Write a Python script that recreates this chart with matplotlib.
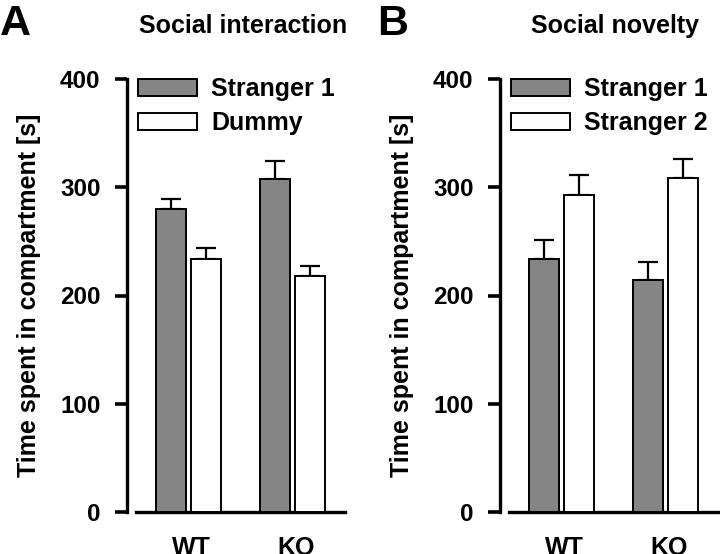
import matplotlib
matplotlib.use("Agg")
import matplotlib.pyplot as plt
import numpy as np

plt.rcParams['font.family'] = ['Liberation Sans', 'DejaVu Sans']
plt.rcParams['font.weight'] = 'bold'

groups = ["WT", "KO"]

# panel A: social interaction
inter_labels = ["Stranger 1", "Dummy"]
inter_mean = [[280, 308], [234, 218]]
inter_err = [[9, 16], [10, 9]]

# panel B: social novelty
novel_labels = ["Stranger 1", "Stranger 2"]
novel_mean = [[234, 214], [293, 309]]
novel_err = [[17, 17], [18, 17]]

colors = ["#858585", "white"]

fig = plt.figure(figsize=(7.2, 5.54), dpi=100)
W, H = 720, 554


def panel(left_px, means, errs, labels, title, title_x, letter, letter_x):
    ax = fig.add_axes([left_px / W, 42 / H, 209 / W, 433 / H])
    x = np.arange(len(groups))
    width = 0.288
    offs = [-0.168, 0.168]
    for i in range(2):
        ax.bar(x + offs[i], means[i], width, color=colors[i], edgecolor="black",
               linewidth=1.4, label=labels[i], zorder=3)
        ax.errorbar(x + offs[i], means[i], yerr=[np.zeros(2), errs[i]], fmt="none",
                    ecolor="black", elinewidth=1.6, capsize=7, capthick=1.6, zorder=2)
    ax.set_xlim(-0.5, 1.5)
    ax.set_ylim(0, 400)
    ax.set_yticks([0, 100, 200, 300, 400])
    ax.set_xticks(x + 0.03)
    ax.set_xticklabels(groups)
    for s in ["top", "right"]:
        ax.spines[s].set_visible(False)
    ax.spines["left"].set_position(("outward", 6.5))
    ax.spines["left"].set_linewidth(2.4)
    ax.spines["bottom"].set_linewidth(2.4)
    ax.tick_params(axis="y", length=9, width=2.6, pad=10, labelsize=17.5)
    ax.tick_params(axis="x", length=0, pad=17, labelsize=18)
    ax.set_ylabel("Time spent in compartment [s]", fontsize=18, fontweight="bold", labelpad=14)
    ax.legend(loc="upper left", bbox_to_anchor=(0.01, 1.004), frameon=False, fontsize=18,
              handlelength=2.36, handleheight=0.72, handletextpad=0.56,
              labelspacing=0.4, borderpad=0, borderaxespad=0)
    fig.text(title_x / W, (H - 33) / H, title, ha="center", va="baseline",
             fontsize=18, fontweight="bold")
    fig.text(letter_x / W, (H - 35) / H, letter, ha="left", va="baseline",
             fontsize=31, fontweight="bold")
    return ax


panel(136, inter_mean, inter_err, inter_labels, "Social interaction", 243, "A", 0)
panel(509, novel_mean, novel_err, novel_labels, "Social novelty", 615, "B", 377)

fig.savefig("out.png", dpi=100)
